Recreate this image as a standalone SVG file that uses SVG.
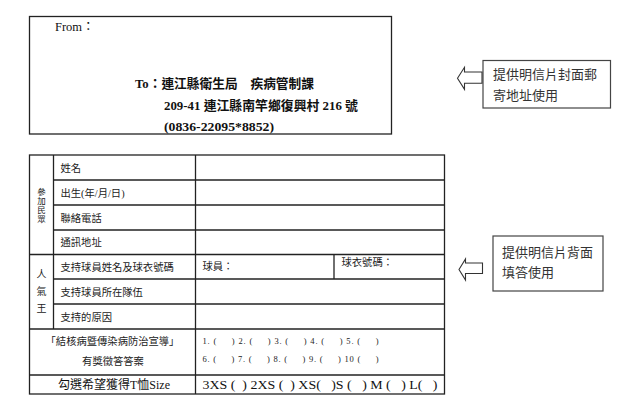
<svg xmlns="http://www.w3.org/2000/svg" width="620" height="412" viewBox="0 0 620 412">
<style>
.ln{stroke:#222;stroke-width:1.3;fill:none}
.t{font-family:"Liberation Serif","Noto Sans CJK TC",serif;fill:#111}
.tb{font-family:"Liberation Serif","Noto Sans CJK TC",serif;font-weight:bold;fill:#111}
.lab{font-family:"Liberation Serif","Noto Sans CJK TC",serif;font-size:10.3px;fill:#222}
.vt{font-family:"Noto Sans CJK TC",sans-serif;fill:#222;writing-mode:vertical-rl}
.cn{font-family:"Noto Sans CJK TC","Liberation Sans",sans-serif;font-size:13px;fill:#333}
.box{fill:#fff;stroke:#444;stroke-width:1.2}
.arr{fill:#fff;stroke:#333;stroke-width:1.1}
.sm{font-family:"Liberation Serif","Noto Sans CJK TC",serif;font-size:8.5px;fill:#222;white-space:pre}
</style>
<rect width="620" height="412" fill="#fff"/>

<g id="envelope">
<rect x="29.5" y="16.5" width="362" height="117.5" class="ln"/>
<text class="t" x="55" y="31" font-size="12.5">From：</text>
<text class="tb" x="135" y="88" font-size="13" textLength="179" lengthAdjust="spacingAndGlyphs">To：連江縣衛生局　疾病管制課</text>
<text class="tb" x="164" y="110" font-size="13" textLength="194" lengthAdjust="spacingAndGlyphs">209-41 連江縣南竿鄉復興村 216 號</text>
<text class="tb" x="164" y="131" font-size="13" textLength="110" lengthAdjust="spacingAndGlyphs">(0836-22095*8852)</text>
</g>

<g id="callout-front">
<rect x="483" y="60.5" width="127.5" height="47.5" class="box"/>
<text class="cn" x="493" y="79">提供明信片封面郵</text>
<text class="cn" x="493" y="100">寄地址使用</text>
</g>
<g id="callout-back">
<rect x="493" y="236" width="110" height="55" class="box"/>
<text class="cn" x="502" y="257">提供明信片背面</text>
<text class="cn" x="502" y="277">填答使用</text>
</g>

<g id="connectors">
<path class="arr" d="M457.5,78.3 L464.5,67.3 L464.5,72 L482,72 L482,83.3 L464.5,83.3 L464.5,89.3 Z"/>
<path class="arr" d="M459,269.5 L465.5,259 L465.5,263 L482.5,263 L482.5,273.5 L465.5,273.5 L465.5,280 Z"/>
</g>

<g id="form-table">
<rect x="29.5" y="155" width="415" height="239" class="ln"/>
<line class="ln" x1="53.5" y1="155" x2="53.5" y2="329"/>
<line class="ln" x1="195.5" y1="155" x2="195.5" y2="394"/>
<line class="ln" x1="334" y1="254.5" x2="334" y2="279"/>
<line class="ln" x1="53.5" y1="180" x2="444.5" y2="180"/>
<line class="ln" x1="53.5" y1="205" x2="444.5" y2="205"/>
<line class="ln" x1="53.5" y1="230" x2="444.5" y2="230"/>
<line class="ln" x1="29.5" y1="254.5" x2="444.5" y2="254.5"/>
<line class="ln" x1="53.5" y1="279" x2="444.5" y2="279"/>
<line class="ln" x1="53.5" y1="304" x2="444.5" y2="304"/>
<line class="ln" x1="29.5" y1="329" x2="444.5" y2="329"/>
<line class="ln" x1="29.5" y1="375" x2="444.5" y2="375"/>
</g>

<g id="group-participant">
<text class="vt" font-size="8.5" letter-spacing="0.5" text-anchor="middle" x="41.5" y="206">參加民眾</text>
<text class="lab" x="60.5" y="171.5">姓名</text>
<text class="lab" x="60.5" y="196.5">出生(年/月/日)</text>
<text class="lab" x="60.5" y="221.5">聯絡電話</text>
<text class="lab" x="60.5" y="246">通訊地址</text>
</g>

<g id="group-popular">
<text class="vt" font-size="10" letter-spacing="7" text-anchor="middle" x="41.5" y="295">人氣王</text>
<text class="lab" x="60.5" y="271">支持球員姓名及球衣號碼</text>
<text class="lab" x="60.5" y="295.5">支持球員所在隊伍</text>
<text class="lab" x="60.5" y="320.5">支持的原因</text>
<text class="lab" x="202.5" y="270">球員：</text>
<text class="lab" x="341.5" y="266">球衣號碼：</text>
</g>

<g id="group-quiz">
<text class="lab" text-anchor="middle" x="112.5" y="344.5">「結核病暨傳染病防治宣導」</text>
<text class="lab" text-anchor="middle" x="113" y="364.5">有獎徵答答案</text>
<text class="sm" x="202.5" y="344" textLength="176" lengthAdjust="spacing">1. (     ) 2. (     ) 3. (     ) 4. (     ) 5. (     )</text>
<text class="sm" x="202.5" y="362" textLength="176" lengthAdjust="spacing">6. (     ) 7. (     ) 8. (     ) 9. (     ) 10 (     )</text>
</g>

<g id="group-size">
<text class="t" font-size="12" text-anchor="middle" x="114" y="389">勾選希望獲得T恤Size</text>
<text class="t" font-size="11.5" x="202.5" y="389" textLength="235" lengthAdjust="spacingAndGlyphs" style="white-space:pre">3XS (  ) 2XS (  ) XS(   )S (   ) M (   ) L(   )</text>
</g>
</svg>
